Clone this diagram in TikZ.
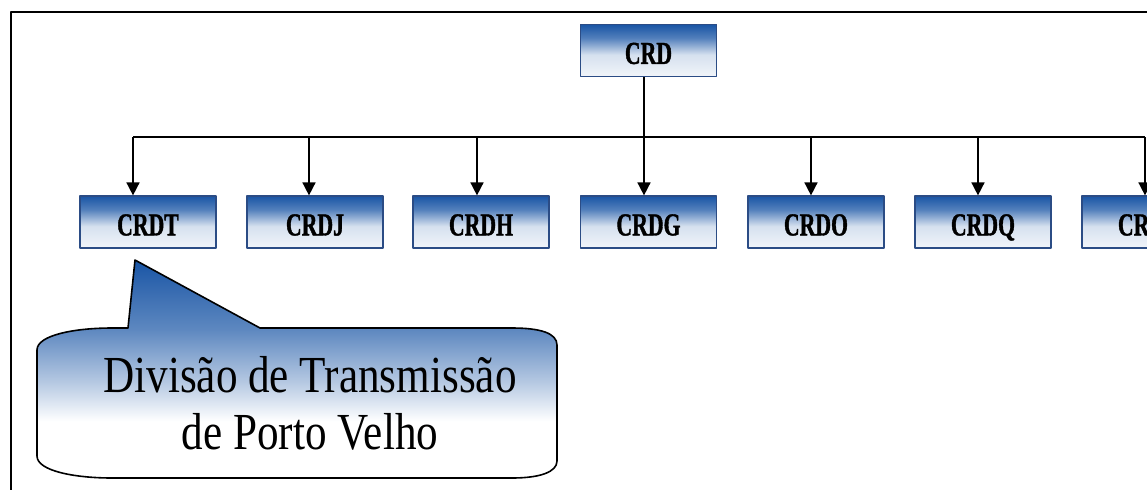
\documentclass[tikz,border=0pt]{standalone}
\usepackage{fontspec}
\setmainfont{Liberation Serif}
\newfontfamily\unitfont{Liberation Serif}[FakeStretch=0.68,FakeBold=1.2]
\newfontfamily\notefont{Liberation Serif}[FakeStretch=0.83]
\usetikzlibrary{arrows.meta,positioning}
\definecolor{unitblue}{HTML}{1955A5}
\definecolor{unitedge}{HTML}{2B4C85}
\pgfdeclareverticalshading{unitshade}{100bp}{color(0bp)=(unitblue!6!white); color(25bp)=(unitblue!6!white); color(46bp)=(unitblue!18!white); color(62bp)=(unitblue!75!white); color(75bp)=(unitblue); color(100bp)=(unitblue)}
\pgfdeclareverticalshading{noteshade}{100bp}{color(0bp)=(white); color(38bp)=(white); color(47bp)=(unitblue!32!white); color(59bp)=(unitblue!70!white); color(75bp)=(unitblue); color(100bp)=(unitblue)}

\begin{document}
\begin{tikzpicture}[x=0.5pt,y=-0.5pt,line join=round,
    unit/.style={draw=unitedge,line width=0.6pt,shade,shading=unitshade,
      minimum width=68pt,minimum height=26pt,inner sep=0pt,
      text height=13.4pt,text depth=0pt,
      font=\unitfont\bfseries\fontsize{16}{18}\selectfont},
    link/.style={line width=0.8pt},
    arr/.style={link,-{Triangle[length=6.5pt,width=6.5pt]}}]
  \useasboundingbox (0,0) rectangle (1147,489);
  \clip (0,0) rectangle (1147,489);
  % frame (only top and left side visible)
  \draw[line width=1pt] (10.5,600) -- (10.5,12) -- (1300,12);

  % units
  \node[unit] (crd) at (648.5,50.5) {CRD};
  \node[unit] (crdt) at (148,222) {CRDT};
  \node[unit] (crdj) at (315,222) {CRDJ};
  \node[unit] (crdh) at (481,222) {CRDH};
  \node[unit] (crdg) at (648.5,222) {CRDG};
  \node[unit] (crdo) at (816,222) {CRDO};
  \node[unit] (crdq) at (983,222) {CRDQ};
  \node[unit] (crdcut) at (1150,222) {CR\phantom{DQ}};

  % connectors
  \coordinate (busL) at (133,137);
  \coordinate (busR) at (1145,137);
  \draw[link] (busL) -- (busR);
  \draw[link] ([xshift=-2.25pt]crd.south) -- ([xshift=-2.25pt]crd.south |- busL);
  \foreach \u/\dx in {crdt/-7.5,crdj/-3,crdh/-2,crdg/-2.25,crdo/-2.5,crdq/-2.5,crdcut/-2.5}
    \draw[arr] ([xshift=\dx pt]\u.north |- busL) -- ([xshift=\dx pt]\u.north);

  % callout
  \shadedraw[shading=noteshade,line width=0.8pt]
    (135,260) -- (260,328) -- (512,328)
    .. controls (540,328) and (557,333) .. (557,345) -- (557,461)
    .. controls (557,472) and (540,478) .. (512,478) -- (112,478)
    .. controls (75,478) and (37,471) .. (37,456) -- (37,350)
    .. controls (37,335) and (75,328) .. (112,328) -- (128,328) -- cycle;
  \node[font=\notefont\fontsize{26}{28.5}\selectfont,align=center,inner sep=0pt]
    (note) at (310,403) {Divisão de Transmissão\\de Porto Velho};
\end{tikzpicture}
\end{document}
